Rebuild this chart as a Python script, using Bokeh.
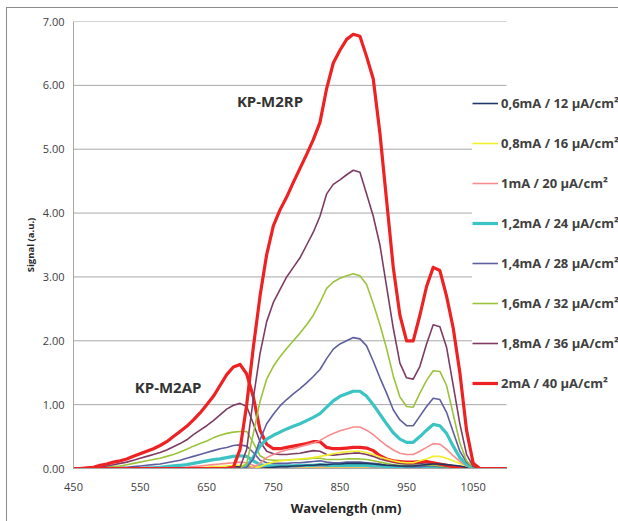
from bokeh.plotting import figure
from bokeh.models import Range1d, FixedTicker, Legend, LegendItem, NumeralTickFormatter
from bokeh.embed import file_html
from bokeh.resources import INLINE
from bokeh.core.properties import value

wavelength = list(range(450, 1101, 10))

labels = ["0,6mA / 12 µA/cm²", "0,8mA / 16 µA/cm²", "1mA / 20 µA/cm²", "1,2mA / 24 µA/cm²",
          "1,4mA / 28 µA/cm²", "1,6mA / 32 µA/cm²", "1,8mA / 36 µA/cm²", "2mA / 40 µA/cm²"]

# KP-M2RP series
rp_06 = [0]*10 + [0]*10 + [0,0,0,0,0,0,0,0,0,0.01,
         0.02,0.03,0.03,0.04,0.04,0.05,0.05,0.06,0.06,0.07,
         0.07,0.08,0.08,0.08,0.08,0.07,0.06,0.05,0.05,0.04,
         0.04,0.04,0.05,0.06,0.07,0.07,0.06,0.05,0.04,0.02,
         0,0,0,0,0,0]
rp_08 = [0]*10 + [0]*10 + [0,0,0,0,0,0,0,0,0.03,0.07,
         0.10,0.12,0.13,0.14,0.15,0.16,0.17,0.19,0.21,0.23,
         0.25,0.26,0.27,0.27,0.25,0.22,0.18,0.15,0.12,0.10,
         0.09,0.09,0.12,0.15,0.19,0.19,0.16,0.12,0.08,0.04,
         0.01,0,0,0,0,0]
rp_10 = [0]*10 + [0]*10 + [0,0,0,0,0,0,0,0.02,0.08,0.17,
         0.22,0.26,0.29,0.31,0.34,0.37,0.40,0.44,0.50,0.55,
         0.59,0.62,0.65,0.65,0.60,0.53,0.44,0.36,0.29,0.24,
         0.22,0.22,0.27,0.33,0.39,0.38,0.30,0.20,0.11,0.04,
         0.01,0,0,0,0,0]
rp_12 = [0]*10 + [0]*10 + [0,0,0,0,0,0,0.03,0.18,0.35,0.46,
         0.52,0.57,0.62,0.66,0.70,0.75,0.80,0.86,0.96,1.06,
         1.13,1.17,1.21,1.21,1.13,1.00,0.85,0.70,0.56,0.46,
         0.41,0.41,0.50,0.60,0.69,0.67,0.55,0.35,0.17,0.06,
         0.01,0,0,0,0,0]
rp_14 = [0]*10 + [0]*10 + [0,0,0,0,0,0,0.02,0.15,0.45,0.70,
         0.85,0.98,1.08,1.17,1.25,1.34,1.44,1.55,1.72,1.87,
         1.95,2.00,2.05,2.03,1.92,1.68,1.42,1.18,0.92,0.76,
         0.67,0.67,0.82,0.97,1.10,1.08,0.88,0.57,0.27,0.10,
         0.02,0,0,0,0,0]
rp_16 = [0]*10 + [0]*10 + [0,0,0,0,0,0,0.08,0.55,1.05,1.40,
         1.60,1.75,1.88,2.00,2.12,2.25,2.40,2.60,2.82,2.92,
         2.98,3.02,3.05,3.02,2.88,2.58,2.25,1.88,1.45,1.12,
         0.97,0.96,1.18,1.38,1.53,1.52,1.30,0.85,0.40,0.12,
         0.02,0,0,0,0,0]
rp_18 = [0]*10 + [0]*10 + [0,0,0,0,0,0.02,0.30,1.10,1.80,2.30,
         2.60,2.80,3.00,3.15,3.30,3.50,3.70,3.95,4.30,4.45,
         4.52,4.60,4.67,4.64,4.30,3.95,3.50,2.85,2.20,1.65,
         1.42,1.40,1.60,1.95,2.25,2.22,1.90,1.30,0.70,0.22,
         0.03,0,0,0,0,0]
rp_20 = [0]*10 + [0]*10 + [0,0,0,0,0.02,0.30,1.00,1.90,2.70,3.35,
         3.80,4.05,4.25,4.48,4.70,4.92,5.15,5.42,5.95,6.35,
         6.55,6.72,6.80,6.77,6.45,6.10,5.25,4.20,3.15,2.40,
         2.00,2.00,2.40,2.85,3.15,3.10,2.70,2.20,1.50,0.60,
         0.08,0,0,0,0,0]

# KP-M2AP series
ap_06 = [0]*10 + [0,0,0,0,0,0,0,0,0.01,0.01,
         0.01,0.01,0.02,0.02,0.03,0.03,0.03,0.02,0.01,0.01,
         0.01,0.01,0.01,0.01,0.01,0.01,0.01,0.01,0.01,0.01,
         0.01,0.01,0.01,0.01,0.01,0.01,0.01,0.01,0.01,0.01,
         0.01,0.01,0.01,0.01,0.01,0.01,0.01,0,0,0,
         0,0,0,0,0,0]
ap_08 = [0]*10 + [0,0,0,0,0,0,0,0.01,0.01,0.02,
         0.02,0.03,0.03,0.04,0.05,0.05,0.05,0.03,0.02,0.01,
         0.01,0.01,0.01,0.01,0.01,0.01,0.01,0.02,0.01,0.01,
         0.01,0.01,0.01,0.01,0.01,0.01,0.01,0.01,0.01,0.01,
         0.01,0.01,0.01,0.01,0.01,0.01,0,0,0,0,
         0,0,0,0,0,0]
ap_10 = [0]*10 + [0,0,0,0,0,0.01,0.01,0.02,0.03,0.04,
         0.05,0.06,0.07,0.08,0.09,0.10,0.09,0.05,0.03,0.02,
         0.02,0.02,0.02,0.02,0.03,0.03,0.03,0.03,0.03,0.03,
         0.03,0.03,0.03,0.03,0.03,0.02,0.02,0.02,0.01,0.01,
         0.01,0.01,0.01,0.01,0.01,0.01,0.01,0,0,0,
         0,0,0,0,0,0]
ap_12 = [0]*10 + [0,0.01,0.01,0.02,0.03,0.04,0.05,0.06,0.08,0.10,
         0.12,0.14,0.15,0.17,0.19,0.20,0.19,0.12,0.06,0.04,
         0.04,0.04,0.04,0.04,0.05,0.05,0.05,0.06,0.05,0.05,
         0.05,0.05,0.05,0.05,0.05,0.04,0.04,0.03,0.02,0.02,
         0.02,0.02,0.02,0.02,0.02,0.02,0.01,0.01,0.01,0,
         0,0,0,0,0,0]
ap_14 = [0,0,0,0,0,0.01,0.01,0.02,0.02,0.03,
         0.04,0.05,0.06,0.07,0.09,0.11,0.13,0.16,0.19,0.22,
         0.25,0.28,0.31,0.33,0.36,0.37,0.35,0.25,0.13,0.09,
         0.08,0.08,0.08,0.09,0.09,0.10,0.11,0.12,0.10,0.09,
         0.09,0.10,0.10,0.10,0.09,0.08,0.07,0.05,0.04,0.04,
         0.03,0.03,0.03,0.04,0.04,0.03,0.03,0.02,0.01,0.01,
         0,0,0,0,0,0]
ap_16 = [0,0,0,0,0.01,0.02,0.03,0.04,0.06,0.08,
         0.10,0.12,0.14,0.16,0.19,0.22,0.26,0.30,0.35,0.39,
         0.43,0.48,0.52,0.55,0.57,0.58,0.58,0.40,0.20,0.14,
         0.13,0.13,0.13,0.14,0.14,0.15,0.16,0.16,0.14,0.14,
         0.14,0.15,0.15,0.15,0.14,0.12,0.10,0.08,0.06,0.05,
         0.05,0.05,0.05,0.05,0.05,0.04,0.03,0.02,0.01,0.01,
         0,0,0,0,0,0]
ap_18 = [0,0,0,0.01,0.02,0.04,0.06,0.08,0.10,0.13,
         0.16,0.19,0.22,0.25,0.29,0.34,0.39,0.45,0.53,0.60,
         0.67,0.75,0.84,0.93,0.99,1.02,0.97,0.70,0.42,0.27,
         0.23,0.22,0.22,0.23,0.24,0.26,0.28,0.27,0.22,0.21,
         0.22,0.23,0.24,0.24,0.22,0.19,0.15,0.12,0.10,0.08,
         0.07,0.07,0.08,0.09,0.08,0.06,0.04,0.03,0.02,0.01,
         0,0,0,0,0,0]
ap_20 = [0,0,0.01,0.02,0.05,0.07,0.10,0.12,0.15,0.19,
         0.23,0.27,0.31,0.36,0.42,0.50,0.58,0.66,0.76,0.87,
         1.00,1.13,1.30,1.47,1.59,1.63,1.48,1.12,0.60,0.38,
         0.31,0.31,0.33,0.35,0.37,0.39,0.42,0.42,0.33,0.31,
         0.31,0.32,0.33,0.33,0.32,0.28,0.20,0.15,0.12,0.11,
         0.10,0.10,0.11,0.11,0.09,0.07,0.05,0.03,0.02,0.01,
         0,0,0,0,0,0]

rp_series = [rp_06, rp_08, rp_10, rp_12, rp_14, rp_16, rp_18, rp_20]
ap_series = [ap_06, ap_08, ap_10, ap_12, ap_14, ap_16, ap_18, ap_20]

x_ticks = [450, 550, 650, 750, 850, 950, 1050]
y_ticks = [0, 1, 2, 3, 4, 5, 6, 7]
x_min, x_max = 450, 1100

group_names = ["KP-M2RP", "KP-M2AP"]
group_x = [745, 592]
group_y = [5.75, 1.28]

colors = ["#1F3864", "#F2EE2A", "#F88C8C", "#3CC3C3", "#5F5F9F", "#9BC43C", "#7E3C64", "#EE2222"]
widths = [1.6, 1.6, 1.6, 3.2, 1.6, 1.6, 1.6, 3.2]

FONT = "Open Sans"

# frame spans to the right window edge so that the legend (drawn inside it) is not clipped
FRAME_W, FRAME_H = 545, 447
px_per_nm = 433 / (x_max - x_min)
x_view_end = x_min + FRAME_W / px_per_nm

p = figure(frame_width=FRAME_W, frame_height=FRAME_H, output_backend="svg", toolbar_location=None,
           x_range=Range1d(x_min, x_view_end), y_range=Range1d(0, 7),
           min_border_left=73, min_border_right=0, min_border_top=21, min_border_bottom=53)
p.styles = {
    "background": "linear-gradient(#8c8c8c,#8c8c8c) 6px 7px / 1px 100% no-repeat, "
                  "linear-gradient(#8c8c8c,#8c8c8c) 6px 7px / 100% 1px no-repeat, white"
}
p.border_fill_alpha = 0
p.outline_line_color = None
p.background_fill_color = "white"

p.xgrid.visible = False
p.ygrid.visible = False
p.segment(x0=[x_min]*len(y_ticks), x1=[x_max]*len(y_ticks), y0=y_ticks, y1=y_ticks,
          line_color="#A8A8A8", line_width=1)

for i in range(8):
    p.line(wavelength, ap_series[i], line_color=colors[i], line_width=widths[i], line_join="round")

rp_renderers = []
for i in range(8):
    r = p.line(wavelength, rp_series[i], line_color=colors[i], line_width=widths[i], line_join="round")
    rp_renderers.append(r)

p.text(x=group_x, y=group_y, text=group_names, text_font=value(FONT), text_font_style="bold",
       text_font_size="15px", text_color="#333333", text_align="center", text_baseline="middle")

p.xaxis.ticker = FixedTicker(ticks=x_ticks)
p.xaxis.bounds = (x_min, x_max)
p.yaxis.ticker = FixedTicker(ticks=y_ticks)
p.yaxis.formatter = NumeralTickFormatter(format="0.00")

for ax in (p.xaxis[0], p.yaxis[0]):
    ax.axis_line_color = "#A8A8A8"
    ax.major_tick_line_color = None
    ax.minor_tick_line_color = None
    ax.major_tick_out = 0
    ax.major_tick_in = 0
    ax.minor_tick_out = 0
    ax.minor_tick_in = 0
    ax.major_label_text_font = FONT
    ax.major_label_text_font_size = "11px"
    ax.major_label_text_color = "#404040"
    ax.axis_label_text_font = FONT
    ax.axis_label_text_font_style = "bold"
    ax.axis_label_text_color = "#262626"

p.xaxis.axis_label = "Wavelength (nm)"
p.xaxis.axis_label_text_font_size = "13px"
p.xaxis.major_label_standoff = 14
p.xaxis.axis_label_standoff = 5

p.yaxis.axis_label = "Signal (a.u.)"
p.yaxis.axis_label_text_font_size = "9.5px"
p.yaxis.major_label_standoff = 9
p.yaxis.axis_label_standoff = 3

items = [LegendItem(label=labels[i], renderers=[rp_renderers[i]]) for i in range(8)]
legend = Legend(items=items, location=(399, 69), padding=6, spacing=8,
                glyph_height=32, label_height=32, glyph_width=26, label_standoff=3,
                margin=0, border_line_color=None, background_fill_color="white",
                background_fill_alpha=1.0, label_text_font=FONT, label_text_font_style="bold",
                label_text_font_size="13px", label_text_color="#404040")
p.add_layout(legend)

open("out.html", "w").write(file_html(p, INLINE))
